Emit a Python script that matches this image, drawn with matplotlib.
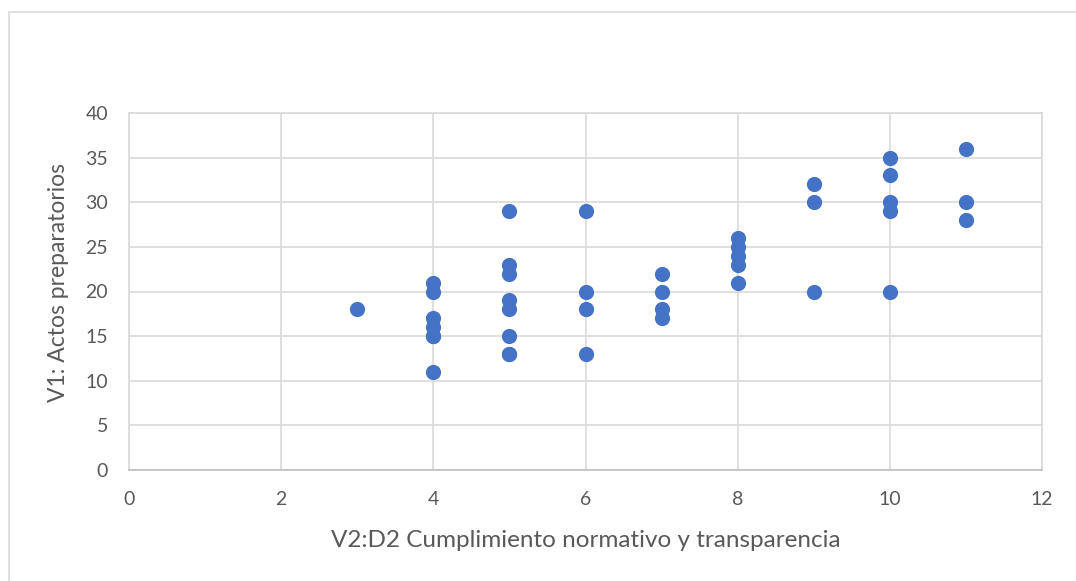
import matplotlib.pyplot as plt
from matplotlib.patches import Rectangle

# V2:D2 score (x) and V1 score (y)
x_vals = [3,
          4, 4, 4, 4, 4, 4, 4,
          5, 5, 5, 5, 5, 5, 5, 5,
          6, 6, 6, 6,
          7, 7, 7, 7,
          8, 8, 8, 8, 8,
          9, 9, 9,
          10, 10, 10, 10, 10,
          11, 11, 11]
y_vals = [18,
          21, 20, 17, 16, 15, 15, 11,
          29, 23, 22, 19, 18, 15, 13, 13,
          29, 20, 18, 13,
          22, 20, 18, 17,
          26, 25, 24, 23, 21,
          32, 30, 20,
          35, 33, 30, 29, 20,
          36, 30, 28]

x_ticks = [0, 2, 4, 6, 8, 10, 12]
y_ticks = [0, 5, 10, 15, 20, 25, 30, 35, 40]

plt.rcParams['font.family'] = ['Lato', 'DejaVu Sans']
TEXT = '#595959'
GRID = '#d9d9d9'

fig = plt.figure(figsize=(10.76, 5.81), dpi=100)
ax = fig.add_axes([129 / 1076, 111 / 581, 913 / 1076, 357 / 581])

# outer chart-area border
fig.patches.append(Rectangle((9 / 1076, -0.1), 1.2, (581 - 12) / 581 + 0.1,
                             transform=fig.transFigure, fill=False,
                             ec='#d9d9d9', lw=1.2, zorder=0))

ax.scatter(x_vals, y_vals, s=120, color='#4472c4', zorder=3, linewidths=0)

ax.set_xlim(0, 12)
ax.set_ylim(0, 40)
ax.set_xticks(x_ticks)
ax.set_yticks(y_ticks)
ax.grid(True, color=GRID, lw=1.2, zorder=0)
ax.tick_params(axis='x', length=0, labelsize=14, labelcolor=TEXT, pad=15)
ax.tick_params(axis='y', length=0, labelsize=14, labelcolor=TEXT, pad=15)
for side in ['top', 'right', 'left']:
    ax.spines[side].set_color(GRID)
    ax.spines[side].set_linewidth(1.2)
ax.spines['bottom'].set_color('#bfbfbf')
ax.spines['bottom'].set_linewidth(1.2)

ax.set_xlabel('V2:D2 Cumplimiento normativo y transparencia', fontsize=17.5, color=TEXT, labelpad=16)
ax.set_ylabel('V1: Actos preparatorios', fontsize=16.5, color=TEXT)
ax.yaxis.set_label_coords(-0.066, 0.524)

fig.savefig('out.png', dpi=100)
